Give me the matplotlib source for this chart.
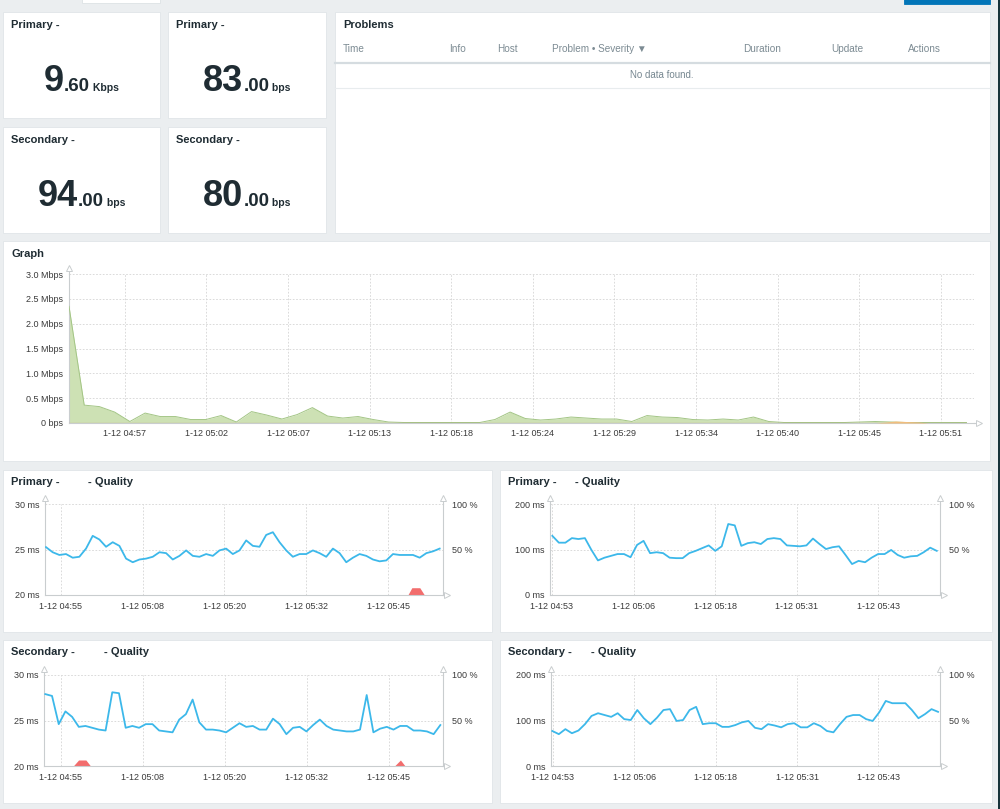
import matplotlib
matplotlib.use('Agg')
import matplotlib.pyplot as plt
import numpy as np
from matplotlib.patches import Rectangle
from matplotlib.lines import Line2D

# ---------------- data ----------------
widget_titles = ['Primary -', 'Primary -', 'Secondary -', 'Secondary -']
widget_whole = ['9', '83', '94', '80']
widget_frac = ['.60', '.00', '.00', '.00']
widget_units = ['Kbps', 'bps', 'bps', 'bps']

problem_cols = ['Time', 'Info', 'Host', 'Problem \u2022 Severity \u25BC', 'Duration', 'Update', 'Actions']
problem_empty = 'No data found.'

# Graph (Mbps), one sample per minute
graph_in = [2.35, 0.36, 0.33, 0.22, 0.03, 0.20, 0.13, 0.13, 0.07, 0.07,
            0.15, 0.02, 0.23, 0.16, 0.08, 0.17, 0.31, 0.14, 0.10, 0.13,
            0.07, 0.02, 0.01, 0.01, 0.01, 0.01, 0.01, 0.01, 0.07, 0.22,
            0.09, 0.06, 0.08, 0.12, 0.10, 0.08, 0.08, 0.03, 0.15, 0.12,
            0.11, 0.07, 0.06, 0.08, 0.06, 0.12, 0.03, 0.01, 0.01, 0.01,
            0.01, 0.01, 0.02, 0.03, 0.02, 0.01, 0.01, 0.01, 0.01, 0.01]
graph_out = [0.008, 0.008, 0.008, 0.008, 0.008, 0.008, 0.008, 0.008, 0.008, 0.008,
             0.008, 0.008, 0.008, 0.008, 0.008, 0.008, 0.008, 0.008, 0.008, 0.008,
             0.008, 0.008, 0.008, 0.008, 0.008, 0.008, 0.008, 0.008, 0.008, 0.008,
             0.008, 0.008, 0.008, 0.008, 0.008, 0.008, 0.008, 0.008, 0.008, 0.008,
             0.008, 0.008, 0.008, 0.008, 0.008, 0.008, 0.008, 0.008, 0.008, 0.008,
             0.008, 0.008, 0.008, 0.008, 0.008, 0.008, 0.008, 0.008, 0.008, 0.008]
graph_orange_t = [53.5, 54.2, 54.8, 55.5, 56.3, 57.0]
graph_orange = [0.0, 0.02, 0.04, 0.03, 0.02, 0.0]
graph_yticks = [0, 0.5, 1.0, 1.5, 2.0, 2.5, 3.0]
graph_ylabels = ['0 bps', '0.5 Mbps', '1.0 Mbps', '1.5 Mbps', '2.0 Mbps', '2.5 Mbps', '3.0 Mbps']
graph_xlabels = ['1-12 04:57', '1-12 05:02', '1-12 05:07', '1-12 05:13', '1-12 05:18', '1-12 05:24',
                 '1-12 05:29', '1-12 05:34', '1-12 05:40', '1-12 05:45', '1-12 05:51']

# Quality charts (ms), one sample per minute
q1_ms = [25.26, 24.7, 24.4, 24.5, 24.1, 24.2, 25.1, 26.5, 26.1, 25.3,
         25.8, 25.4, 24.0, 23.6, 23.9, 24.0, 24.2, 24.7, 24.6, 23.9,
         24.3, 24.9, 24.3, 24.2, 24.5, 24.3, 24.9, 25.1, 24.5, 24.9,
         26.0, 25.4, 25.3, 26.6, 26.9, 25.8, 24.9, 24.2, 24.5, 24.5,
         24.9, 24.6, 24.2, 25.1, 24.6, 23.6, 24.1, 24.5, 24.3, 23.9,
         23.7, 23.8, 24.5, 24.4, 24.4, 24.4, 24.1, 24.6, 24.8, 25.1]
q2_ms = [130, 115, 115, 125, 123, 125, 99, 76, 82, 86,
         90, 90, 83, 110, 119, 92, 94, 92, 82, 81,
         81, 92, 97, 103, 109, 97, 107, 156, 153, 108,
         114, 116, 112, 123, 125, 123, 109, 108, 107, 109,
         124, 112, 101, 105, 107, 88, 68, 75, 72, 82,
         90, 90, 99, 88, 82, 85, 86, 94, 104, 97]
q3_ms = [27.9, 27.7, 24.6, 26.0, 25.4, 24.3, 24.4, 24.2, 24.0, 23.9,
         28.1, 28.0, 24.2, 24.4, 24.2, 24.6, 24.6, 23.9, 23.8, 23.7,
         25.1, 25.7, 27.3, 24.8, 24.0, 24.0, 23.9, 23.7, 24.2, 24.7,
         24.3, 24.4, 24.0, 24.0, 25.2, 24.6, 23.5, 24.2, 24.3, 23.8,
         24.5, 25.1, 24.4, 24.0, 23.9, 23.8, 23.8, 24.0, 27.8, 23.7,
         24.1, 24.3, 24.0, 24.4, 24.4, 23.9, 23.9, 23.8, 23.5, 24.5]
q4_ms = [77, 70, 81, 72, 78, 92, 110, 116, 112, 108,
         116, 103, 101, 123, 105, 92, 106, 123, 125, 99,
         101, 123, 130, 92, 94, 94, 86, 86, 90, 96,
         99, 84, 81, 92, 89, 85, 92, 94, 85, 85,
         94, 88, 77, 74, 92, 108, 112, 112, 103, 99,
         118, 143, 138, 138, 138, 123, 105, 114, 125, 119]
q1_loss_t = [54.7, 55.3, 56.5, 57.2]
q1_loss = [0, 8, 8, 0]
q2_loss_t = []
q2_loss = []
q3_loss_t = [4.4, 5.2, 6.3, 7.0, 52.7, 53.6, 54.3]
q3_loss = [0, 6.6, 6.6, 0, 0, 6.6, 0]
q4_loss_t = []
q4_loss = []

q_titles = [('Primary -', '- Quality'), ('Primary -', '- Quality'),
            ('Secondary -', '- Quality'), ('Secondary -', '- Quality')]
q_small_yticks = [20, 25, 30]
q_small_ylabels = ['20 ms', '25 ms', '30 ms']
q_big_yticks = [0, 100, 200]
q_big_ylabels = ['0 ms', '100 ms', '200 ms']
q_pct_ticks = [50, 100]
q_pct_labels = ['50 %', '100 %']
q_xlabels_a = ['1-12 04:55', '1-12 05:08', '1-12 05:20', '1-12 05:32', '1-12 05:45']
q_xlabels_b = ['1-12 04:53', '1-12 05:06', '1-12 05:18', '1-12 05:31', '1-12 05:43']

# ---------------- style / layout ----------------
W, H = 1000, 809
BG = '#ebeef0'
TXT = '#1f2c33'
AXC = '#c9cdcf'
GRIDC = '#d4d4d4'
TICKC = '#3a3a3a'
BLUE = '#3cb8ea'
RED = '#f26d6d'
plt.rcParams['font.family'] = ['Liberation Sans', 'DejaVu Sans']

fig = plt.figure(figsize=(W / 100, H / 100), dpi=100)
fig.patch.set_facecolor(BG)


def fx(x):
    return x / W


def fy(y):
    return 1 - y / H


def panel(x0, y0, x1, y1, color='white', ec='#e0e5e8'):
    fig.add_artist(Rectangle((fx(x0), fy(y1)), (x1 - x0) / W, (y1 - y0) / H,
                             transform=fig.transFigure, facecolor=color,
                             edgecolor=ec, lw=0.6, zorder=0))


def hline(x0, x1, y, color, lw):
    fig.add_artist(Line2D([fx(x0), fx(x1)], [fy(y), fy(y)], transform=fig.transFigure,
                          color=color, lw=lw))


def add_ax(x0, y0, x1, y1):
    return fig.add_axes([fx(x0), fy(y1), (x1 - x0) / W, (y1 - y0) / H])


def title(x, y, s, size=8):
    fig.text(fx(x), fy(y), s, fontsize=size, fontweight='bold', color=TXT,
             ha='left', va='center')


# top strip fragments
panel(82, -3, 160, 3, ec='#dde2e5')
panel(904, -3, 990, 4, color='#0275b8', ec='#0275b8')
fig.add_artist(Rectangle((fx(998), 0), 2 / W, 1, transform=fig.transFigure,
                         facecolor='#17333a', edgecolor='none'))

# ---------------- value widgets ----------------
widget_boxes = [(3, 12, 160, 118), (168, 12, 326, 118), (3, 127, 160, 233), (168, 127, 326, 233)]
renderer = fig.canvas.get_renderer()
for (x0, y0, x1, y1), t_, wh, fr, un in zip(widget_boxes, widget_titles, widget_whole,
                                           widget_frac, widget_units):
    panel(x0, y0, x1, y1)
    title(x0 + 8, y0 + 13, t_)
    base = y0 + 79
    parts = [(wh, 26), (fr, 13.5), (' ' + un, 7.5)]
    texts = [fig.text(0, fy(base), s, fontsize=sz, fontweight='bold', color=TXT,
                      ha='left', va='baseline') for s, sz in parts]
    widths = [t.get_window_extent(renderer).width for t in texts]
    xx = (x0 + x1) / 2 - sum(widths) / 2
    for t, w in zip(texts, widths):
        t.set_x(xx / W)
        xx += w

# ---------------- problems ----------------
panel(335, 12, 990, 233)
title(343, 25, 'Problems')
col_x = [343, 449, 497, 552, 743, 831, 908]
for cx, c in zip(col_x, problem_cols):
    fig.text(fx(cx), fy(49), c, fontsize=7.2, color='#7c8b93', ha='left', va='center')
hline(335, 990, 63, '#d5dce0', 1.6)
fig.text(fx(662), fy(75), problem_empty, fontsize=7, color='#768790', ha='center', va='center')
hline(335, 990, 88, '#e8ecee', 0.8)


# ---------------- helpers for charts ----------------
def style_axes(ax, keep_right=False):
    for s in ['top', 'right']:
        ax.spines[s].set_visible(False)
    for s in ['left', 'bottom']:
        ax.spines[s].set_color(AXC)
        ax.spines[s].set_linewidth(0.8)
    ax.set_facecolor('none')
    ax.tick_params(length=0, labelsize=6.5, labelcolor=TICKC)
    ax.grid(True, color=GRIDC, lw=0.6, ls=(0, (2, 2)))


def arrows(ax, w_px, h_px, top_ext=6, right_ext=5, right_axis=False):
    tt = 1 + top_ext / h_px
    ax.plot([0, 0], [1, tt], transform=ax.transAxes, clip_on=False, color=AXC, lw=0.8)
    ax.plot([0], [tt], transform=ax.transAxes, clip_on=False, marker='^', ms=4,
            mfc='white', mec=AXC, mew=0.7)
    rr = 1 + right_ext / w_px
    ax.plot([1, rr], [0, 0], transform=ax.transAxes, clip_on=False, color=AXC, lw=0.8)
    ax.plot([rr], [0], transform=ax.transAxes, clip_on=False, marker='>', ms=4,
            mfc='white', mec=AXC, mew=0.7)
    if right_axis:
        ax.plot([1, 1], [1, tt], transform=ax.transAxes, clip_on=False, color=AXC, lw=0.8)
        ax.plot([1], [tt], transform=ax.transAxes, clip_on=False, marker='^', ms=4,
                mfc='white', mec=AXC, mew=0.7)


# ---------------- main graph ----------------
panel(3, 241, 990, 461)
title(11, 254, 'Graph')
gx0, gy0, gx1, gy1 = 69, 274, 974, 423
ax = add_ax(gx0, gy0, gx1, gy1)
style_axes(ax)
tg = np.linspace(0, 59.5, len(graph_in))
ax.fill_between(tg, graph_in, color='#cde1b4', lw=0, zorder=2)
ax.plot(tg, graph_in, color='#a3c585', lw=0.7, zorder=3)
ax.fill_between(graph_orange_t, graph_orange, color='#f3c27f', lw=0, zorder=3)
ax.plot(tg, graph_out, color='#d0674e', lw=0.8, zorder=4)
ax.set_xlim(0, 60)
ax.set_ylim(0, 3.0)
ax.set_yticks(graph_yticks)
ax.set_yticklabels(graph_ylabels)
ax.set_xticks([3.7 + 5.41 * i for i in range(len(graph_xlabels))])
ax.set_xticklabels(graph_xlabels)
ax.tick_params(axis='y', pad=4.5)
ax.tick_params(axis='x', pad=4.5)
arrows(ax, gx1 - gx0, gy1 - gy0, top_ext=6, right_ext=5)


# ---------------- quality charts ----------------
def quality(box, plot, ttl, title_gap_x, ms, t_first, t_last, yticks, ylabels,
            xfirst, xstep, xlabels, loss_t, loss):
    px0, py0, px1, py1 = box
    panel(px0, py0, px1, py1)
    title(px0 + 8, py0 + 12, ttl[0])
    title(title_gap_x, py0 + 12, ttl[1])
    ax0, ay0, ax1, ay1 = plot
    a = add_ax(ax0, ay0, ax1, ay1)
    style_axes(a)
    a.set_xlim(0, 60)
    a.set_ylim(yticks[0], yticks[-1])
    a.set_yticks(yticks)
    a.set_yticklabels(ylabels)
    a.set_xticks([xfirst + xstep * i for i in range(len(xlabels))])
    a.set_xticklabels(xlabels)
    a.tick_params(axis='y', pad=4.3)
    a.tick_params(axis='x', pad=5.3)
    b = a.twinx()
    for s in ['top', 'left', 'bottom']:
        b.spines[s].set_visible(False)
    b.spines['right'].set_color(AXC)
    b.spines['right'].set_linewidth(0.8)
    b.set_ylim(0, 100)
    b.set_yticks(q_pct_ticks)
    b.set_yticklabels(q_pct_labels)
    b.tick_params(length=0, labelsize=6.5, labelcolor=TICKC, pad=6.5)
    if len(loss_t):
        b.fill_between(loss_t, loss, color=RED, lw=0, zorder=2)
    t = np.linspace(t_first, t_last, len(ms))
    b.plot([], [])
    a.plot(t, ms, color=BLUE, lw=1.3, zorder=5, solid_joinstyle='round')
    a.set_zorder(b.get_zorder() + 1)
    arrows(a, ax1 - ax0, ay1 - ay0, top_ext=6, right_ext=4, right_axis=True)


quality((3, 470, 492, 632), (45, 504, 443, 595), q_titles[0], 88, q1_ms, 0.15, 59.5,
        q_small_yticks, q_small_ylabels, 2.4, 12.33, q_xlabels_a, q1_loss_t, q1_loss)
quality((500, 470, 992, 632), (550, 504, 940, 595), q_titles[1], 575, q2_ms, 0.36, 59.5,
        q_big_yticks, q_big_ylabels, 0.3, 12.55, q_xlabels_b, q2_loss_t, q2_loss)
quality((3, 640, 492, 803), (44, 675, 443, 766), q_titles[2], 104, q3_ms, 0.2, 59.6,
        q_small_yticks, q_small_ylabels, 2.5, 12.33, q_xlabels_a, q3_loss_t, q3_loss)
quality((500, 640, 992, 803), (551, 675, 940, 766), q_titles[3], 591, q4_ms, 0.2, 59.7,
        q_big_yticks, q_big_ylabels, 0.3, 12.55, q_xlabels_b, q4_loss_t, q4_loss)

fig.savefig('out.png', dpi=100, facecolor=fig.get_facecolor())
